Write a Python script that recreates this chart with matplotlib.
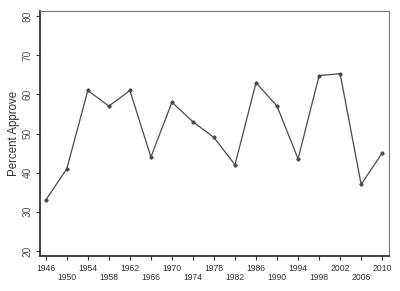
import matplotlib
matplotlib.use("Agg")
import matplotlib.pyplot as plt

years = [1946, 1950, 1954, 1958, 1962, 1966, 1970, 1974, 1978, 1982,
         1986, 1990, 1994, 1998, 2002, 2006, 2010]
approve = [33, 41, 61, 57, 61, 44, 58, 53, 49, 42,
           63, 57, 43.5, 64.8, 65.3, 37, 45]
yticks = [20, 30, 40, 50, 60, 70, 80]
ylabel = "Percent Approve"

plt.rcParams['font.family'] = ['Liberation Sans', 'DejaVu Sans']

fig = plt.figure(figsize=(4.0, 2.91), dpi=100)
ax = fig.add_axes([0.1, 0.1203, 0.8725, 0.8417])

ax.plot(years, approve, color='#4a4a4a', linewidth=0.9,
        marker='D', markersize=1.7, markerfacecolor='#4a4a4a',
        markeredgecolor='#4a4a4a')

ax.set_xlim(1944.9, 2011.3)
ax.set_ylim(18.7, 81.3)

ax.set_yticks(yticks)
ax.set_yticklabels([str(v) for v in yticks], rotation=90, va='center',
                   fontsize=7.3, color='#555555')
ax.set_xticks(years)
labels = [str(y) if i % 2 == 0 else '\n' + str(y) for i, y in enumerate(years)]
ax.set_xticklabels(labels, fontsize=6.2, color='#333333', linespacing=1.05)

ax.tick_params(axis='both', direction='out', length=3, width=0.8,
               color='#333333', pad=2.5)
ax.set_ylabel(ylabel, fontsize=8.3, color='#333333', labelpad=2)

for side in ['left', 'bottom']:
    ax.spines[side].set_color('#333333')
    ax.spines[side].set_linewidth(1.3)
for side in ['top', 'right']:
    ax.spines[side].set_color('#777777')
    ax.spines[side].set_linewidth(0.8)

fig.savefig('out.png', dpi=100)
